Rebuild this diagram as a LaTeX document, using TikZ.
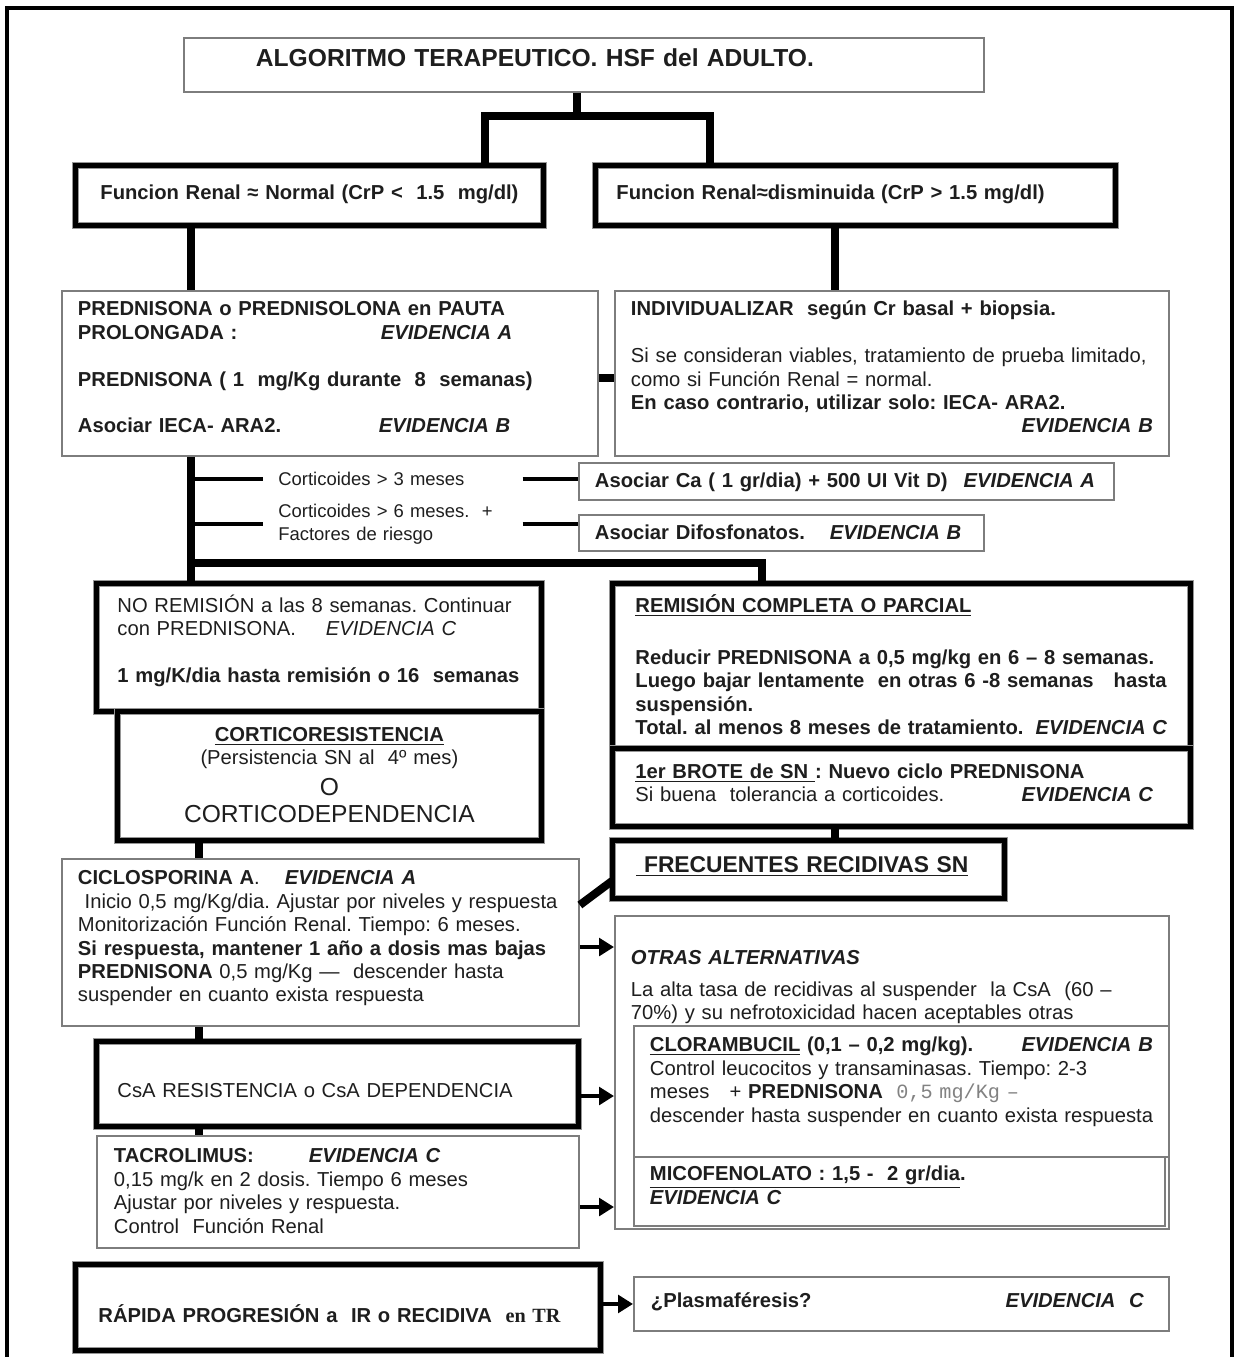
\documentclass[tikz,border=0pt]{standalone}
\usepackage{fontspec}
\setmainfont{Liberation Sans}
\setmonofont{Liberation Mono}
\newfontfamily\timesrm{Liberation Serif}
\definecolor{ink}{RGB}{30,30,30}
\definecolor{rulegray}{RGB}{125,125,125}
\definecolor{rimgray}{RGB}{150,150,150}
\definecolor{monogray}{RGB}{130,130,130}
\newcommand{\bodyfont}{\fontsize{11.5pt}{13.3pt}\selectfont}
\newcommand{\labfont}{\fontsize{10.5pt}{13pt}\selectfont}
\newcommand{\evid}[1]{\textbf{\textit{#1}}}
\frenchspacing
\usetikzlibrary{arrows.meta}

\begin{document}
\begin{tikzpicture}[x=0.02cm, y=-0.02cm,
    base/.style={anchor=north west, inner ysep=0pt, align=left, text=ink, font=\bodyfont},
    thinbox/.style={base, draw=rulegray, line width=1.1pt, fill=white},
    heavybox/.style={base, draw=rimgray, line width=0.5pt, double=black, double distance=2.8pt, fill=white},
    bar/.style={line width=4.6pt, black},
    tick/.style={line width=2.3pt, black},
    flow/.style={line width=2.6pt, black, -{Triangle[length=8.5pt, width=10pt]}},
    cortlabel/.style={anchor=west, inner xsep=0.3cm, inner ysep=0pt, align=left, text=ink, font=\labfont, text width=4.58cm}]

  \useasboundingbox (0,0) rectangle (1238,1357);
  \draw[line width=2.4pt, black] (7,1357) -- (7,8) -- (1232,8) -- (1232,1357);

  % header and the two branches
  \node (title) [thinbox, font=\fontsize{14pt}{16pt}\selectfont\bfseries, inner xsep=1.44cm, text width=13.12cm, text height=0.58cm, text depth=0.5cm] at (183,37) {ALGORITMO TERAPEUTICO. HSF del ADULTO.};
  \node (frnormal) [heavybox, font=\bodyfont\bfseries, inner xsep=0.5cm, text width=8.36cm, text height=0.68cm, text depth=0.52cm] at (75,165) {\mbox{Funcion Renal ≈ Normal (CrP <~~1.5~~mg/dl)}};
  \node (frlow) [heavybox, font=\bodyfont\bfseries, inner xsep=0.42cm, text width=9.56cm, text height=0.68cm, text depth=0.52cm] at (595,165) {\mbox{Funcion Renal≈disminuida (CrP > 1.5 mg/dl)}};

  \node (pauta) [thinbox, inner xsep=0.32cm, text width=10.08cm, text height=0.5cm, text depth=2.8cm] at (61,290) {\textbf{PREDNISONA o PREDNISOLONA en PAUTA}\\
    \makebox[6.06cm][l]{\textbf{PROLONGADA :}}\evid{EVIDENCIA A}\\[13.3pt]
    \textbf{PREDNISONA ( 1~~mg/Kg durante~~8~~semanas)}\\[13.3pt]
    \makebox[6.02cm][l]{\textbf{Asociar IECA- ARA2.}}\evid{EVIDENCIA B}};
  \node (indiv) [thinbox, inner xsep=0.32cm, text width=10.44cm, text height=0.5cm, text depth=2.8cm] at (614,290) {\textbf{INDIVIDUALIZAR~~según Cr basal + biopsia.}\\[13.3pt]
    \mbox{Si se consideran viables, tratamiento de prueba limitado,}\\
    como si Función Renal = normal.\\
    \textbf{En caso contrario, utilizar solo: IECA- ARA2.}\\
    \mbox{}\hfill\evid{EVIDENCIA B}};

  % bone protection
  \node (ca) [thinbox, inner xsep=0.32cm, text width=10.06cm, text height=0.5cm, text depth=0.24cm] at (578,462) {\textbf{Asociar Ca ( 1 gr/dia) + 500 UI Vit D)}\hspace{0.32cm}\evid{EVIDENCIA A}};
  \node (difos) [thinbox, inner xsep=0.32cm, text width=7.46cm, text height=0.5cm, text depth=0.22cm] at (578,514) {\textbf{Asociar Difosfonatos.}\hspace{0.5cm}\evid{EVIDENCIA B}};
  \node (cort3) [cortlabel] at (263,479) {Corticoides > 3 meses};
  \node (cort6) [cortlabel] at (263,524) {Corticoides > 6 meses.~~+\\Factores de riesgo};

  % left column
  \node (noremi) [heavybox, inner xsep=0.42cm, text width=8.06cm, text height=0.58cm, text depth=1.98cm] at (96,583) {NO REMISIÓN a las 8 semanas. Continuar\\
    con PREDNISONA.\hspace{0.6cm}\textit{EVIDENCIA C}\\[13.3pt]
    \mbox{\textbf{1 mg/K/dia hasta remisión o 16~~semanas}}};
  \node (cortres) [heavybox, align=center, inner xsep=0.3cm, text width=7.88cm, text height=0.6cm, text depth=1.98cm] at (117,711) {\textbf{\underline{CORTICORESISTENCIA}}\\
    (Persistencia SN al~~4º mes)\\[4.2pt]
    {\fontsize{14pt}{16pt}\selectfont O}\\[2pt]
    {\fontsize{14pt}{16pt}\selectfont CORTICODEPENDENCIA}};
  \node (ciclo) [thinbox, inner xsep=0.32cm, text width=9.7cm, text height=0.52cm, text depth=2.82cm] at (61,858) {\textbf{CICLOSPORINA A}.\hspace{0.5cm}\evid{EVIDENCIA A}\\
    \mbox{\ Inicio 0,5 mg/Kg/dia. Ajustar por niveles y respuesta}\\
    Monitorización Función Renal. Tiempo: 6 meses.\\
    \mbox{\textbf{Si respuesta, mantener 1 año a dosis mas bajas}}\\
    \textbf{PREDNISONA} 0,5 mg/Kg —~~descender hasta\\
    suspender en cuanto exista respuesta};
  \node (csares) [heavybox, inner xsep=0.42cm, text width=8.8cm, text height=1.12cm, text depth=0.58cm] at (96,1041) {CsA RESISTENCIA o CsA DEPENDENCIA};
  \node (tacro) [thinbox, inner xsep=0.34cm, text width=8.96cm, text height=0.54cm, text depth=1.7cm] at (96,1135) {\makebox[3.9cm][l]{\textbf{TACROLIMUS:}}\evid{EVIDENCIA C}\\
    0,15 mg/k en 2 dosis. Tiempo 6 meses\\
    Ajustar por niveles y respuesta.\\
    Control~~Función Renal};
  \node (rapida) [heavybox, font=\bodyfont\bfseries, inner xsep=0.46cm, text width=9.58cm, text height=1.16cm, text depth=0.56cm] at (75,1264) {RÁPIDA PROGRESIÓN a~~IR o RECIDIVA~~{\timesrm en TR}};

  % right column
  \node (remi) [heavybox, inner xsep=0.46cm, text width=10.64cm, text height=0.58cm, text depth=2.72cm] at (612,583) {\textbf{\underline{REMISIÓN COMPLETA O PARCIAL}}\\[16.2pt]
    \textbf{Reducir PREDNISONA a 0,5 mg/kg en 6 – 8 semanas.}\\
    \mbox{\textbf{Luego bajar lentamente~~en otras 6 -8 semanas~~~hasta}}\\
    \textbf{suspensión.}\\
    \mbox{\textbf{Total. al menos 8 meses de tratamiento.}}\nobreak\hfill\evid{EVIDENCIA C}};
  \node (brote) [heavybox, inner xsep=0.46cm, text width=10.64cm, text height=0.6cm, text depth=0.96cm] at (612,748) {\textbf{\underline{1er BROTE de SN }: Nuevo ciclo PREDNISONA}\\
    Si buena~~tolerancia a corticoides.\nobreak\hfill\evid{EVIDENCIA C}\hspace*{0.28cm}};
  \node (frec) [heavybox, font=\fontsize{13pt}{15pt}\selectfont\bfseries, inner xsep=0.48cm, text width=6.88cm, text height=0.64cm, text depth=0.52cm] at (612,840) {\underline{\ FRECUENTES RECIDIVAS SN}};
  \node (otras) [thinbox, inner xsep=0.32cm, text width=10.44cm, text height=0.98cm, text depth=5.28cm] at (614,915) {\evid{OTRAS ALTERNATIVAS}\\[4.5pt]
    La alta tasa de recidivas al suspender~~la CsA~~(60 –\\
    70\%) y su nefrotoxicidad hacen aceptables otras};
  \node (cloram) [thinbox, inner xsep=0.32cm, text width=10.06cm, text height=0.52cm, text depth=2.1cm] at (633,1025) {\textbf{\underline{CLORAMBUCIL} (0,1 – 0,2 mg/kg).}\nobreak\hfill\evid{EVIDENCIA B}\\
    Control leucocitos y transaminasas. Tiempo: 2-3\\
    meses~~~+ \textbf{PREDNISONA}~~{\ttfamily\color{monogray}0,5 mg/Kg –}\\
    \mbox{descender hasta suspender en cuanto exista respuesta}};
  \node (mico) [thinbox, inner xsep=0.32cm, text width=9.98cm, text height=0.48cm, text depth=0.9cm] at (633,1156) {\textbf{\underline{MICOFENOLATO : 1,5 -~~2 gr/dia}.}\\
    \evid{EVIDENCIA C}};
  \node (plasma) [thinbox, inner xsep=0.34cm, text width=10.02cm, text height=0.62cm, text depth=0.46cm] at (633,1276) {\textbf{¿Plasmaféresis?}\nobreak\hfill\evid{EVIDENCIA~~C}\hspace*{0.16cm}};

  % connectors
  \coordinate (fork) at (577,116);
  \coordinate (forkl) at (485,116);
  \coordinate (forkr) at (710,116);
  \coordinate (split) at (191,563);
  \coordinate (rcx) at (762,563);
  \coordinate (rcol) at (835,560);
  \coordinate (lcol) at (199,1000);
  \coordinate (side) at (605,378);
  \coordinate (diagl) at (0,905);
  \coordinate (diagr) at (0,881);
  \coordinate (yciclo) at (0,947);
  \coordinate (ycsa) at (0,1096);
  \coordinate (ytacro) at (0,1207);

  \draw[bar] (title.south -| fork) -- (fork);
  \draw[bar] (frnormal.north -| forkl) -- (forkl) -- (forkr) -- (frlow.north -| forkr);
  \draw[bar] (frnormal.south -| split) -- (pauta.north -| split);
  \draw[bar] (frlow.south -| rcol) -- (indiv.north -| rcol);
  \draw[bar] (pauta.east |- side) -- (indiv.west |- side);
  \draw[bar] (pauta.south -| split) -- (noremi.north -| split);
  \draw[bar] (split) -- (rcx) -- (remi.north -| rcx);
  \draw[tick] (cort3.west -| split) -- (cort3.west);
  \draw[tick] (cort3.east) -- (ca.west |- cort3.east);
  \draw[tick] (cort6.west -| split) -- (cort6.west);
  \draw[tick] (cort6.east) -- (difos.west |- cort6.east);
  \draw[bar] (cortres.south -| lcol) -- (ciclo.north -| lcol);
  \draw[bar] (ciclo.south -| lcol) -- (csares.north -| lcol);
  \draw[bar] (csares.south -| lcol) -- (tacro.north -| lcol);
  \draw[bar] (brote.south -| rcol) -- (frec.north -| rcol);
  \draw[bar] (ciclo.east |- diagl) -- (frec.west |- diagr);
  \draw[flow] (ciclo.east |- yciclo) -- (otras.west |- yciclo);
  \draw[flow] (csares.east |- ycsa) -- (otras.west |- ycsa);
  \draw[flow] (tacro.east |- ytacro) -- (otras.west |- ytacro);
  \draw[flow] (rapida.east |- plasma.west) -- (plasma.west);
\end{tikzpicture}
\end{document}
